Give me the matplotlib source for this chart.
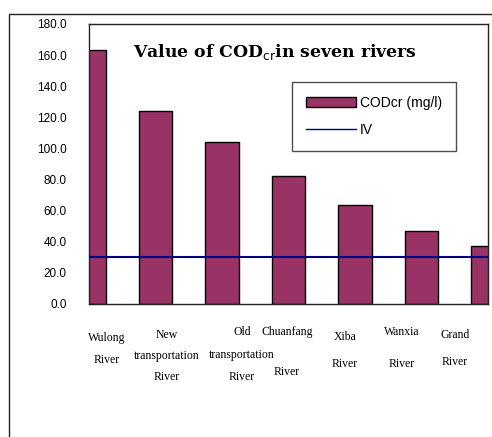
import matplotlib.pyplot as plt
from matplotlib.patches import Rectangle, Patch
from matplotlib.lines import Line2D
import numpy as np

rivers = ['Wulong\nRiver', 'New\ntransportation\nRiver', 'Old\ntransportation\nRiver',
          'Chuanfang\n\nRiver', 'Xiba\nRiver', 'Wanxia\nRiver', 'Grand\nRiver']
cod = [163.5, 124.0, 104.0, 82.5, 63.5, 47.0, 37.5]
grade_iv = 30.0
yticks = [0, 20, 40, 60, 80, 100, 120, 140, 160, 180]

bar_col = '#993366'
line_col = '#000080'

fig = plt.figure(figsize=(4.92, 4.37), dpi=100)
fig.patch.set_facecolor('white')

# outer chart border (only left/top show)
fig.patches.append(Rectangle((9 / 492, -0.05), 1.2, 1 - 14 / 437 + 0.05,
                             transform=fig.transFigure, fill=False,
                             edgecolor='#222222', lw=1.0))

ax = fig.add_axes([89 / 492, 1 - 304 / 437, (488 - 89) / 492, (304 - 24) / 437])
x = np.arange(len(rivers))
ax.bar(x, cod, width=0.5, color=bar_col, edgecolor='black', linewidth=1.0, zorder=2)
ax.axhline(grade_iv, color=line_col, lw=1.5, zorder=3)

ax.set_xlim(0, len(rivers) - 1)
ax.set_ylim(0, 180)
ax.set_yticks(yticks)
ax.set_yticklabels([f'{v:.1f}' for v in yticks], fontsize=8.5, family='Liberation Sans')
ax.tick_params(axis='y', direction='in', length=4, pad=16, color='#222222')
ax.set_xticks([])
for s in ax.spines.values():
    s.set_color('#222222')
    s.set_linewidth(1.0)

# river names under the bars, one line at a time (uneven spacing)
label_x = [0.26, 1.17, 2.3, 2.98, 3.85, 4.7, 5.5]
label_y = [-21.9, -19.9, -18.0, -18.0, -21.2, -18.0, -19.9]
label_step = [14.1, 13.5, 14.5, 12.9, 17.4, 20.6, 17.4]
for lx, ly, st, name in zip(label_x, label_y, label_step, rivers):
    for i, part in enumerate(name.split('\n')):
        if part:
            ax.text(lx, ly - i * st, part, ha='center', va='center', fontsize=8.5,
                    family='Liberation Serif', clip_on=False)

ax.text(0.66, 162, r'Value of COD$_{\mathrm{cr}}$in seven rivers', fontsize=12.4,
        fontweight='bold', family='DejaVu Serif', va='center', ha='left')

handles = [Patch(facecolor=bar_col, edgecolor='black', lw=1.0),
           Line2D([0], [0], color=line_col, lw=1.0)]
leg = ax.legend(handles, ['CODcr (mg/l)', 'IV'], loc='upper left',
                bbox_to_anchor=((292 - 89) / 399, (304 - 82) / 280),
                prop={'family': 'Liberation Sans', 'size': 10},
                frameon=True, fancybox=False, borderpad=1.0, labelspacing=0.95,
                handlelength=3.6, handletextpad=0.3, borderaxespad=0)
leg.get_frame().set_edgecolor('#222222')
leg.get_frame().set_linewidth(1.0)

fig.savefig('out.png', dpi=100)
